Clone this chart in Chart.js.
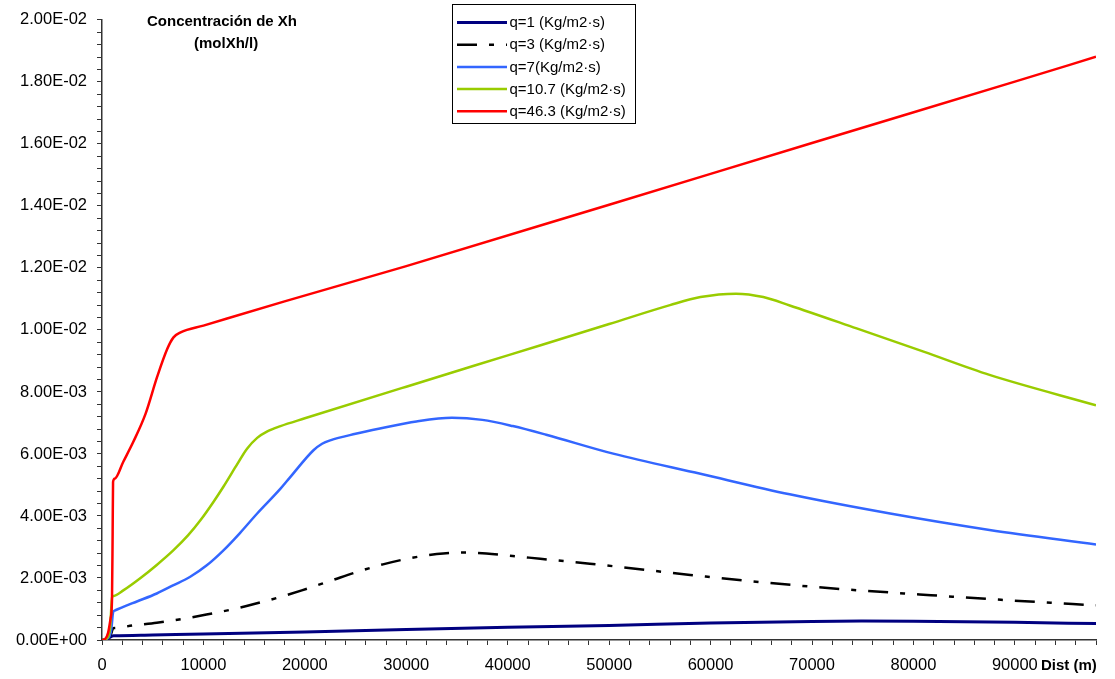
<!DOCTYPE html>
<html>
<head>
<meta charset="utf-8">
<title>Concentración de Xh</title>
<script src="https://cdn.jsdelivr.net/npm/chart.js@4.4.1/dist/chart.umd.min.js"></script>
<style>
  html, body { margin: 0; padding: 0; background: #ffffff; }
  #wrap { position: relative; width: 1115px; height: 679px; }
  canvas { display: block; }
</style>
</head>
<body>
<div id="wrap"><canvas id="chart" width="1115" height="679"></canvas></div>
<script>
// Distance along the reactor (m) and Xh concentration (molXh/l) for each flux q
const dist_q1 = [0, 500, 800, 1000, 1200, 5000, 10000, 20000, 30000, 40000, 50000, 60000, 70000, 75000, 80000, 90000, 98000];
const conc_q1 = [0, 0.00003, 0.00009, 0.00013, 0.000135, 0.00016, 0.00019, 0.00026, 0.00034, 0.00041, 0.00047, 0.00055, 0.00060, 0.00061, 0.000605, 0.00057, 0.00053];

const dist_q3 = [0, 600, 900, 1100, 1300, 3100, 5400, 7900, 10300, 13000, 15000, 17500, 19700, 22800, 25000, 27700, 30400, 33000, 35500, 37900, 40500, 43200, 45500, 48100, 50400, 58000, 65500, 73000, 80600, 88000, 95700, 98000];
const conc_q3 = [0, 0.00005, 0.0002, 0.00038, 0.00039, 0.00047, 0.00056, 0.00068, 0.00082, 0.001, 0.00116, 0.00138, 0.0016, 0.00194, 0.00218, 0.00244, 0.00264, 0.00277, 0.00282, 0.00279, 0.00271, 0.00262, 0.002545, 0.00246, 0.00238, 0.0021, 0.00185, 0.00164, 0.00147, 0.00131, 0.00116, 0.00112];

const dist_q7 = [0, 500, 900, 1100, 1250, 2100, 3500, 5400, 7000, 8700, 10300, 12000, 13600, 15300, 17600, 18600, 20850, 21700, 22500, 25000, 27400, 31000, 34500, 37500, 40500, 43800, 50400, 59000, 67800, 77700, 87500, 98000];
const conc_q7 = [0, 0.00004, 0.0003, 0.0009, 0.00095, 0.00107, 0.00125, 0.0015, 0.00176, 0.00204, 0.0024, 0.0029, 0.00345, 0.00408, 0.00488, 0.00527, 0.00612, 0.00633, 0.00644, 0.00665, 0.00682, 0.00705, 0.00717, 0.0071, 0.0069, 0.00662, 0.00601, 0.00536, 0.0047, 0.00408, 0.00355, 0.00308];

const dist_q10 = [0, 500, 800, 1000, 1150, 2100, 3800, 5400, 7000, 8500, 9700, 11000, 12000, 13200, 14300, 15300, 16300, 17600, 20000, 30000, 40000, 50000, 56000, 59000, 62500, 65200, 67800, 74400, 81000, 87500, 98000];
const conc_q10 = [0, 0.00006, 0.0004, 0.00139, 0.00142, 0.0016, 0.002, 0.00242, 0.00288, 0.00338, 0.00386, 0.00446, 0.00496, 0.0056, 0.00617, 0.00652, 0.00673, 0.0069, 0.00715, 0.00817, 0.00918, 0.01019, 0.0108, 0.01106, 0.01117, 0.01106, 0.01079, 0.01005, 0.0093, 0.00855, 0.00757];

const dist_q46 = [0, 300, 600, 850, 985, 1050, 1090, 1250, 2100, 3100, 4300, 5450, 6450, 7050, 7750, 10000, 18000, 30000, 50000, 70000, 90000, 98000];
const conc_q46 = [0, 0.00003, 0.00023, 0.0007, 0.00129, 0.0035, 0.0051, 0.0052, 0.00575, 0.0064, 0.0073, 0.0085, 0.0094, 0.00976, 0.00992, 0.01014, 0.01092, 0.01206, 0.01404, 0.01603, 0.01801, 0.01881];

const seriesNames = ['q=1 (Kg/m2·s)', 'q=3 (Kg/m2·s)', 'q=7(Kg/m2·s)', 'q=10.7 (Kg/m2·s)', 'q=46.3 (Kg/m2·s)'];
const seriesColors = ['#000080', '#000000', '#3366FF', '#99CC00', '#FF0000'];

const titleLines = ['Concentración de Xh', '(molXh/l)'];
const xAxisLabel = 'Dist (m)';

const X_MIN = 0, X_MAX = 98000, X_MINOR = 2000, X_MAJOR = 10000;
const Y_MIN = 0, Y_MAX = 0.02, Y_MINOR = 0.0004, Y_MAJOR_EVERY = 5;

function toPoints(xs, ys) {
  return xs.map((x, i) => ({ x: x, y: ys[i] }));
}

const allDist = [dist_q1, dist_q3, dist_q7, dist_q10, dist_q46];
const allConc = [conc_q1, conc_q3, conc_q7, conc_q10, conc_q46];
const lineWidths = [3, 2.5, 2.5, 2.5, 2.5];
const dashes = [[], [20, 12, 5, 12], [], [], []];

const datasets = seriesNames.map((name, i) => ({
  label: name,
  data: toPoints(allDist[i], allConc[i]),
  borderColor: seriesColors[i],
  backgroundColor: seriesColors[i],
  borderWidth: lineWidths[i],
  borderDash: dashes[i],
  pointRadius: 0,
  fill: false,
  cubicInterpolationMode: 'monotone',
  order: seriesNames.length - i
}));

// Excel-style scientific label: 2.00E-02
function sciLabel(v) {
  if (Math.abs(v) < 1e-12) return '0.00E+00';
  const s = v.toExponential(2).toUpperCase();
  const m = s.match(/^(.*)E([+-])(\d+)$/);
  return m[1] + 'E' + m[2] + m[3].padStart(2, '0');
}

const FONT = "'Liberation Sans', Arial, sans-serif";

// Titles, axis caption and boxed legend drawn on top of the plot
const overlayPlugin = {
  id: 'overlay',
  afterDraw(chart) {
    const ctx = chart.ctx;
    ctx.save();
    ctx.fillStyle = '#000';
    ctx.textBaseline = 'middle';
    ctx.textAlign = 'left';
    ctx.font = 'bold 15px ' + FONT;
    ctx.fillText(titleLines[0], 147, 22);
    ctx.fillText(titleLines[1], 194, 44);
    ctx.fillText(xAxisLabel, 1041, 666);

    // legend box
    const bx = 452.5, by = 4.5, bw = 183, bh = 119;
    ctx.fillStyle = '#fff';
    ctx.fillRect(bx, by, bw, bh);
    ctx.strokeStyle = '#000';
    ctx.lineWidth = 1;
    ctx.setLineDash([]);
    ctx.strokeRect(bx, by, bw, bh);
    ctx.font = '15px ' + FONT;
    chart.data.datasets.forEach((ds, i) => {
      const y = 22.5 + i * 22.2;
      ctx.beginPath();
      ctx.strokeStyle = ds.borderColor;
      ctx.lineWidth = ds.borderWidth;
      ctx.setLineDash(ds.borderDash || []);
      ctx.moveTo(457, y);
      ctx.lineTo(507, y);
      ctx.stroke();
      ctx.setLineDash([]);
      ctx.fillStyle = '#000';
      ctx.fillText(ds.label, 509.5, y + 0.5);
    });
    ctx.restore();
  }
};

new Chart(document.getElementById('chart'), {
  type: 'line',
  data: { datasets: datasets },
  options: {
    responsive: false,
    animation: false,
    events: [],
    layout: { padding: { top: 19, right: 19, left: 0, bottom: 0 } },
    plugins: {
      legend: { display: false },
      title: { display: false },
      tooltip: { enabled: false }
    },
    scales: {
      x: {
        type: 'linear',
        min: X_MIN,
        max: X_MAX,
        afterFit(scale) { scale.height = 39; },
        border: { display: true, color: '#333', width: 1.5 },
        grid: { drawOnChartArea: false, drawTicks: true, tickLength: 5, tickColor: '#333', tickWidth: 1 },
        ticks: {
          stepSize: X_MINOR,
          autoSkip: false,
          maxRotation: 0,
          padding: 11,
          color: '#000',
          font: { family: FONT, size: 16.5 },
          callback(v) { return (Math.round(v) % X_MAJOR === 0) ? String(Math.round(v)) : ''; }
        }
      },
      y: {
        type: 'linear',
        min: Y_MIN,
        max: Y_MAX,
        afterFit(scale) { scale.width = 102; },
        border: { display: true, color: '#333', width: 1.5 },
        grid: { drawOnChartArea: false, drawTicks: true, tickLength: 5, tickColor: '#333', tickWidth: 1 },
        ticks: {
          stepSize: Y_MINOR,
          autoSkip: false,
          padding: 10,
          color: '#000',
          font: { family: FONT, size: 16.5 },
          callback(v) {
            const k = Math.round(v / Y_MINOR);
            return (k % Y_MAJOR_EVERY === 0) ? sciLabel(k * Y_MINOR) : '';
          }
        }
      }
    }
  },
  plugins: [overlayPlugin]
});
</script>
</body>
</html>
